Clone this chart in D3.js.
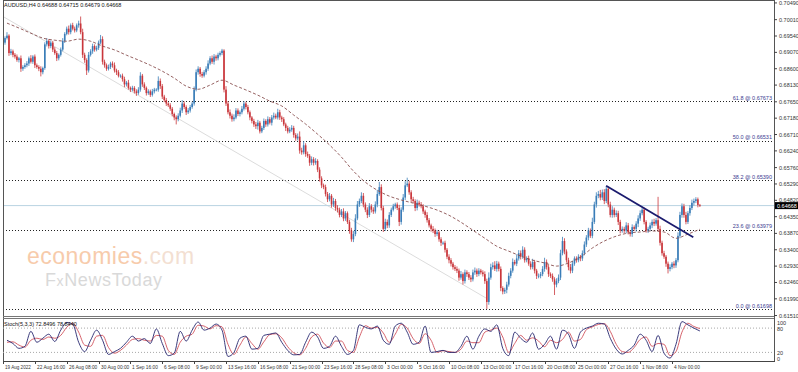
<!DOCTYPE html>
<html>
<head>
<meta charset="utf-8">
<script src="https://cdn.jsdelivr.net/npm/d3@7"></script>
<style>
  body { margin: 0; background: #fff; }
  svg { display: block; }
  text { font-family: "Liberation Sans", Arial, sans-serif; }
</style>
</head>
<body>
<script>
// AUDUSD H4 closes, in pips (0.0001), one row per trading day (6 bars)
const firstOpen = 6940;
const closes = [
  6935,6948,6955,6905,6910,6900,
  6895,6885,6890,6860,6865,6870,
  6875,6890,6880,6895,6870,6865,
  6860,6850,6862,6930,6940,6925,
  6935,6915,6905,6890,6900,6915,
  6940,6960,6975,6965,6985,6975,
  6970,6985,6990,6965,6900,6885,
  6855,6900,6910,6925,6915,6920,
  6935,6945,6880,6870,6860,6865,
  6875,6870,6855,6850,6840,6840,
  6830,6815,6820,6805,6800,6805,
  6795,6790,6800,6840,6815,6805,
  6790,6795,6785,6795,6800,6800,
  6825,6810,6780,6770,6760,6755,
  6745,6730,6720,6715,6725,6740,
  6760,6750,6735,6740,6750,6760,
  6800,6850,6860,6845,6840,6850,
  6860,6875,6890,6880,6895,6890,
  6900,6905,6912,6800,6760,6735,
  6725,6715,6720,6740,6730,6735,
  6745,6760,6750,6735,6720,6710,
  6700,6695,6705,6680,6690,6710,
  6700,6715,6705,6720,6725,6720,
  6735,6720,6715,6700,6690,6680,
  6685,6690,6670,6660,6665,6625,
  6620,6640,6615,6610,6590,6600,
  6590,6595,6570,6545,6525,6520,
  6500,6485,6495,6470,6480,6460,
  6455,6440,6450,6430,6445,6420,
  6395,6370,6385,6430,6470,6480,
  6495,6470,6455,6440,6465,6455,
  6450,6470,6500,6520,6460,6400,
  6420,6410,6440,6455,6465,6470,
  6460,6420,6455,6490,6525,6530,
  6505,6485,6480,6460,6475,6470,
  6465,6450,6440,6425,6410,6400,
  6395,6385,6390,6370,6360,6360,
  6340,6320,6310,6300,6290,6285,
  6280,6260,6270,6250,6275,6270,
  6260,6255,6275,6280,6270,6280,
  6275,6270,6250,6190,6260,6290,
  6295,6285,6300,6285,6230,6220,
  6225,6240,6265,6280,6305,6300,
  6315,6330,6320,6340,6310,6315,
  6300,6290,6305,6280,6265,6265,
  6270,6285,6305,6290,6270,6265,
  6255,6240,6250,6260,6330,6365,
  6335,6310,6290,6280,6300,6315,
  6310,6320,6315,6330,6355,6375,
  6395,6380,6420,6470,6495,6500,
  6490,6505,6480,6515,6470,6440,
  6455,6440,6445,6420,6395,6400,
  6395,6410,6390,6385,6405,6400,
  6415,6430,6445,6455,6420,6395,
  6400,6410,6420,6415,6425,6400,
  6360,6330,6320,6300,6285,6290,
  6300,6295,6310,6380,6440,6465,
  6440,6420,6445,6460,6475,6480,
  6485,6468.8,6466.8
];
// upper / lower wick length beyond the body, pips
const wickUp = [
  6,5,10,4,7,5, 5,6,4,8,5,6, 7,5,9,4,6,5, 5,7,4,6,8,5, 6,5,7,6,4,6,
  8,5,6,9,5,7, 6,5,8,20,10,6, 5,8,6,7,5,6, 6,12,8,6,5,7, 5,6,8,5,6,4,
  6,7,5,8,4,6, 5,6,7,10,5,6, 4,6,5,7,5,4, 13,7,6,5,6,4, 6,5,4,6,7,8,
  10,6,5,7,6,5, 9,8,7,5,6,6, 7,9,6,8,7,5, 6,5,5,4,10,7, 8,6,9,7,6,5,
  8,7,5,6,5,4, 6,7,8,5,6,7, 5,8,6,7,9,6, 10,7,5,6,5,6, 7,8,6,5,9,15,
  8,12,6,7,5,8, 6,8,5,7,6,5, 7,6,8,5,9,6, 8,6,7,9,6,5, 6,8,9,12,10,7,
  10,8,6,7,9,6, 7,9,12,15,8,6, 9,7,8,6,7,5, 6,9,7,10,12,17, 8,6,7,5,9,6,
  7,6,5,8,6,5, 8,6,7,5,6,4, 6,5,7,6,5,6, 7,6,9,5,8,6, 6,7,8,9,6,7,
  5,6,8,7,15,10, 9,12,8,6,7,5, 6,8,9,7,10,6, 12,9,8,10,7,6, 8,7,9,6,5,7,
  6,8,12,7,6,5, 7,6,8,9,10,12, 8,6,7,9,8,6, 6,7,5,8,9,7, 8,6,12,8,10,9,
  12,8,9,7,6,8, 10,6,8,7,6,7, 6,9,7,6,8,5, 7,9,8,7,6,5, 6,8,7,9,6,67,
  9,6,7,5,6,8, 5,7,6,10,9,8, 7,9,6,8,9,7, 6,5,2.7
];
const wickDn = [
  5,6,4,8,6,7, 6,5,7,9,6,5, 6,7,5,6,8,5, 7,12,6,5,6,7, 6,7,5,8,6,5,
  5,6,4,7,6,5, 6,5,7,6,9,8, 13,6,5,7,6,5, 6,5,8,7,6,5, 6,7,6,8,5,6,
  7,8,6,5,7,5, 6,8,5,6,7,6, 7,5,6,5,6,5, 6,8,7,6,7,5, 6,7,8,15,6,5,
  7,6,8,5,6,5, 6,5,7,8,6,5, 7,6,5,6,8,7, 6,5,6,8,7,6, 8,7,6,5,6,7,
  6,5,7,6,8,7, 7,8,10,6,5,6, 7,6,5,8,6,5, 6,7,8,5,9,6, 5,6,8,7,6,9,
  7,6,8,6,9,7, 8,6,7,9,8,6, 7,8,6,9,7,8, 8,7,6,8,7,6, 9,7,8,6,5,7,
  6,8,7,9,6,8, 7,6,8,5,7,9, 6,8,7,6,5,7, 6,12,8,6,7,5, 7,8,6,9,7,6,
  6,7,8,7,6,8, 7,8,6,7,9,6, 8,7,9,8,7,6, 7,9,6,10,7,8, 7,8,6,7,8,6,
  6,7,8,20,8,6, 7,6,8,7,9,8, 7,10,6,7,6,5, 7,6,8,6,7,6, 6,7,6,8,9,7,
  7,6,8,7,8,6, 7,30,8,6,7,6, 8,7,9,8,7,6, 7,6,8,7,6,7, 8,6,7,6,9,7,
  8,7,9,6,8,7, 8,7,6,9,8,6, 7,8,6,7,8,6, 8,10,7,6,7,6, 7,6,8,7,6,8,
  8,7,6,9,13,7, 6,8,7,6,7,8, 8,7,6,7,6,8, 6,7,4
];

// dashed moving average, read every 6 bars (bar 2, 8, 14 ...), pips
const maValues = [
  6991,6977,6962,6948,6942,6939,6945,6939,6925,6914,6899,6885,6870,6853,6833,
  6810,6801,6813,6827,6813,6799,6784,6767,6753,6727,6701,6672,6641,6606,6566,
  6534,6511,6494,6483,6474,6465,6454,6439,6419,6396,6373,6350,6336,6322,6310,
  6302,6293,6302,6319,6345,6365,6379,6388,6391,6394,6391,6373,6385,6399
];

// Stoch(5,3,3) main and signal, read every 3 bars (bar 2, 5, 8 ...)
const stochMain = [
  50,42,30,35,72,45,55,65,47,75,94,90,45,22,50,75,50,15,22,30,
  45,60,48,54,42,78,42,12,18,72,48,75,95,75,80,90,75,10,20,55,
  60,28,30,62,65,68,45,25,14,15,45,70,58,30,35,60,35,15,25,88,
  82,78,85,50,40,85,92,70,40,45,85,20,22,25,20,20,35,60,28,60,
  78,72,88,30,12,70,55,45,68,28,40,60,28,75,65,30,70,80,85,92,
  90,55,28,16,25,38,65,50,22,62,18,6,40,96,88,80,72.8496
];
const stochSignal = [
  45,46,38,33,50,55,52,58,55,62,82,92,70,38,35,60,62,32,18,25,
  38,52,54,50,48,62,60,25,15,45,60,65,87,85,78,86,83,40,15,38,
  58,42,28,46,64,66,56,34,19,14,30,58,65,43,32,48,48,25,20,58,
  86,80,82,68,45,65,89,80,54,42,66,50,20,24,22,20,28,48,44,44,
  70,75,80,58,20,42,62,50,56,48,34,50,44,52,70,48,52,76,83,89,
  91,72,40,22,20,32,52,58,35,42,40,12,22,70,92,84,78.844
];

// Fibonacci retracement levels
const fibPct = ["61.8", "50.0", "38.2", "23.6", "0.0"];
const fibPrice = [0.67673, 0.66531, 0.65390, 0.63979, 0.61698];

// price axis and time axis labels
const priceTicks = [0.70490,0.70010,0.69540,0.69070,0.68600,0.68130,0.67650,0.67180,0.66710,0.66240,
                    0.65760,0.65290,0.64820,0.64350,0.63870,0.63400,0.62930,0.62460,0.61990,0.61510];
const timeLabels = ["19 Aug 2022","22 Aug 16:00","26 Aug 08:00","30 Aug 00:00","1 Sep 16:00","6 Sep 08:00",
  "9 Sep 00:00","13 Sep 16:00","16 Sep 08:00","21 Sep 00:00","23 Sep 16:00","28 Sep 08:00","3 Oct 00:00",
  "5 Oct 16:00","10 Oct 08:00","13 Oct 00:00","17 Oct 16:00","20 Oct 08:00","25 Oct 00:00","27 Oct 16:00",
  "1 Nov 08:00","4 Nov 00:00"];

// drawn trend lines: [bar, price]
const downTrend = [[302.9, 0.6524], [346.7, 0.6376]];
const channelLine = [[0, 0.7010], [243, 0.6200]];
const lastPrice = 0.64668;

const width = 798, height = 372;
const left = 3, right = 774;

let svg = d3.select("body").append("svg")
  .attr("width", width).attr("height", height);

let x = d3.scaleLinear().domain([0, 336]).range([left, 672]);
let y = d3.scaleLinear().domain([0.61698, 0.67673]).range([309, 101]);
let ys = d3.scaleLinear().domain([0, 100]).range([360.5, 320]);

svg.append("clipPath").attr("id", "mainClip")
  .append("rect").attr("x", left).attr("y", 0).attr("width", right - left).attr("height", 316);
svg.append("clipPath").attr("id", "stochClip")
  .append("rect").attr("x", left).attr("y", 319).attr("width", right - left).attr("height", 42);

// watermark
let wm = svg.append("g");
let t1 = wm.append("text").attr("x", 27).attr("y", 264).attr("font-size", 23)
  .attr("letter-spacing", 0.5);
t1.append("tspan").attr("fill", "#f7cbab").text("economies");
t1.append("tspan").attr("fill", "#f3dfd2").text(".com");
let t2 = wm.append("text").attr("x", 45).attr("y", 285.5).attr("font-size", 18)
  .attr("letter-spacing", 0.6).attr("fill", "#d9d9d9");
t2.append("tspan").text("F");
t2.append("tspan").attr("font-size", 14).text("x");
t2.append("tspan").text("NewsToday");

let main = svg.append("g").attr("clip-path", "url(#mainClip)");

// fibonacci dotted lines
fibPrice.forEach(function(p, k) {
  main.append("line")
    .attr("x1", left).attr("x2", right)
    .attr("y1", Math.round(y(p)) + 0.5).attr("y2", Math.round(y(p)) + 0.5)
    .attr("stroke", "#222").attr("stroke-width", 1)
    .attr("stroke-dasharray", "1,2");
  svg.append("text")
    .attr("x", right - 2).attr("y", y(p) - 1.5)
    .attr("text-anchor", "end").attr("font-size", 5.5)
    .attr("fill", "#3b3b90")
    .text(fibPct[k] + " @ " + p.toFixed(5));
});

// faint channel line
main.append("line")
  .attr("x1", x(channelLine[0][0])).attr("y1", y(channelLine[0][1]))
  .attr("x2", x(channelLine[1][0])).attr("y2", y(channelLine[1][1]))
  .attr("stroke", "#dcdcdc").attr("stroke-width", 1);

// current price line
main.append("line")
  .attr("x1", left).attr("x2", right)
  .attr("y1", y(lastPrice)).attr("y2", y(lastPrice))
  .attr("stroke", "#b9d3e2").attr("stroke-width", 1);

// candles
let bars = closes.map(function(c, i) {
  let o = i ? closes[i - 1] : firstOpen;
  return {i: i, o: o / 1e4, c: c / 1e4,
          h: (Math.max(o, c) + wickUp[i]) / 1e4,
          l: (Math.min(o, c) - wickDn[i]) / 1e4};
});
let upCol = "#3a7db8", dnCol = "#c9363b";

main.selectAll(".wick").data(bars).enter().append("line")
  .attr("class", "wick")
  .attr("x1", d => x(d.i)).attr("x2", d => x(d.i))
  .attr("y1", d => y(d.h)).attr("y2", d => y(d.l))
  .attr("stroke", d => d.c >= d.o ? upCol : dnCol)
  .attr("stroke-width", 0.8);

main.selectAll(".body").data(bars).enter().append("rect")
  .attr("class", "body")
  .attr("x", d => x(d.i) - 0.8).attr("width", 1.6)
  .attr("y", d => y(Math.max(d.o, d.c)))
  .attr("height", d => Math.max(0.8, Math.abs(y(d.o) - y(d.c))))
  .attr("fill", d => d.c >= d.o ? upCol : dnCol);

// moving average
let maLine = d3.line()
  .x((d, j) => x(2 + 6 * j))
  .y(d => y(d / 1e4))
  .curve(d3.curveMonotoneX);
main.append("path").datum(maValues)
  .attr("d", maLine)
  .attr("fill", "none").attr("stroke", "#8a5050").attr("stroke-width", 0.9)
  .attr("stroke-dasharray", "3,2");

// down trend line
main.append("line")
  .attr("x1", x(downTrend[0][0])).attr("y1", y(downTrend[0][1]))
  .attr("x2", x(downTrend[1][0])).attr("y2", y(downTrend[1][1]))
  .attr("stroke", "#1b1b6e").attr("stroke-width", 1.8);

// frames
svg.append("line").attr("x1", left + 0.5).attr("x2", left + 0.5).attr("y1", 0).attr("y2", 361)
  .attr("stroke", "#555");
svg.append("line").attr("x1", right + 0.5).attr("x2", right + 0.5).attr("y1", 0).attr("y2", 361)
  .attr("stroke", "#555");
svg.append("line").attr("x1", left).attr("x2", right).attr("y1", 0.5).attr("y2", 0.5)
  .attr("stroke", "#555");
svg.append("line").attr("x1", left).attr("x2", right).attr("y1", 316.5).attr("y2", 316.5)
  .attr("stroke", "#777");
svg.append("line").attr("x1", left).attr("x2", right).attr("y1", 318.5).attr("y2", 318.5)
  .attr("stroke", "#777");
svg.append("line").attr("x1", left).attr("x2", right + 1).attr("y1", 361.5).attr("y2", 361.5)
  .attr("stroke", "#444");

// price axis
let pAxis = svg.append("g");
priceTicks.forEach(function(p) {
  pAxis.append("line").attr("x1", right).attr("x2", right + 3)
    .attr("y1", y(p)).attr("y2", y(p)).attr("stroke", "#444");
  pAxis.append("text").attr("x", right + 5).attr("y", y(p) + 2)
    .attr("font-size", 5.5).attr("fill", "#333").text(p.toFixed(5));
});
pAxis.append("rect").attr("x", right + 1).attr("y", y(lastPrice) - 3.5)
  .attr("width", 23).attr("height", 7).attr("fill", "#000");
pAxis.append("text").attr("x", right + 3).attr("y", y(lastPrice) + 2)
  .attr("font-size", 5.5).attr("fill", "#fff").text(lastPrice.toFixed(5));

// title
svg.append("text").attr("x", 4).attr("y", 7).attr("font-size", 5.5).attr("fill", "#111")
  .text("AUDUSD,H4  0.64688 0.64715 0.64679 0.64668");

// stochastic panel
let st = svg.append("g").attr("clip-path", "url(#stochClip)");
[80, 20].forEach(function(v) {
  st.append("line").attr("x1", left).attr("x2", right)
    .attr("y1", ys(v)).attr("y2", ys(v))
    .attr("stroke", "#a8a8a8").attr("stroke-dasharray", "1,2");
});
let sLine = d3.line().x((d, j) => x(2 + 3 * j)).y(d => ys(d)).curve(d3.curveMonotoneX);
st.append("path").datum(stochSignal).attr("d", sLine)
  .attr("fill", "none").attr("stroke", "#d0505a").attr("stroke-width", 0.9);
st.append("path").datum(stochMain).attr("d", sLine)
  .attr("fill", "none").attr("stroke", "#26266e").attr("stroke-width", 0.9);
svg.append("text").attr("x", 4).attr("y", 326).attr("font-size", 5.5).attr("fill", "#111")
  .text("Stoch(5,3,3) 72.8496 78.8440");
[[100, 322.5], [80, 328.5], [20, 353], [0, 358.5]].forEach(function(d) {
  svg.append("text").attr("x", right + 3).attr("y", d[1] + 2)
    .attr("font-size", 5.5).attr("fill", "#333").text(d[0]);
});

// time axis
timeLabels.forEach(function(t, k) {
  let tx = Math.round(x(16 * k)) + 0.5;
  svg.append("line").attr("x1", tx).attr("x2", tx).attr("y1", 361).attr("y2", 364)
    .attr("stroke", "#444");
  svg.append("text").attr("x", tx + 1.5).attr("y", 369)
    .attr("font-size", 5.5).attr("fill", "#333")
    .attr("textLength", t.length * 2.35).attr("lengthAdjust", "spacingAndGlyphs")
    .text(t);
});
</script>
</body>
</html>
